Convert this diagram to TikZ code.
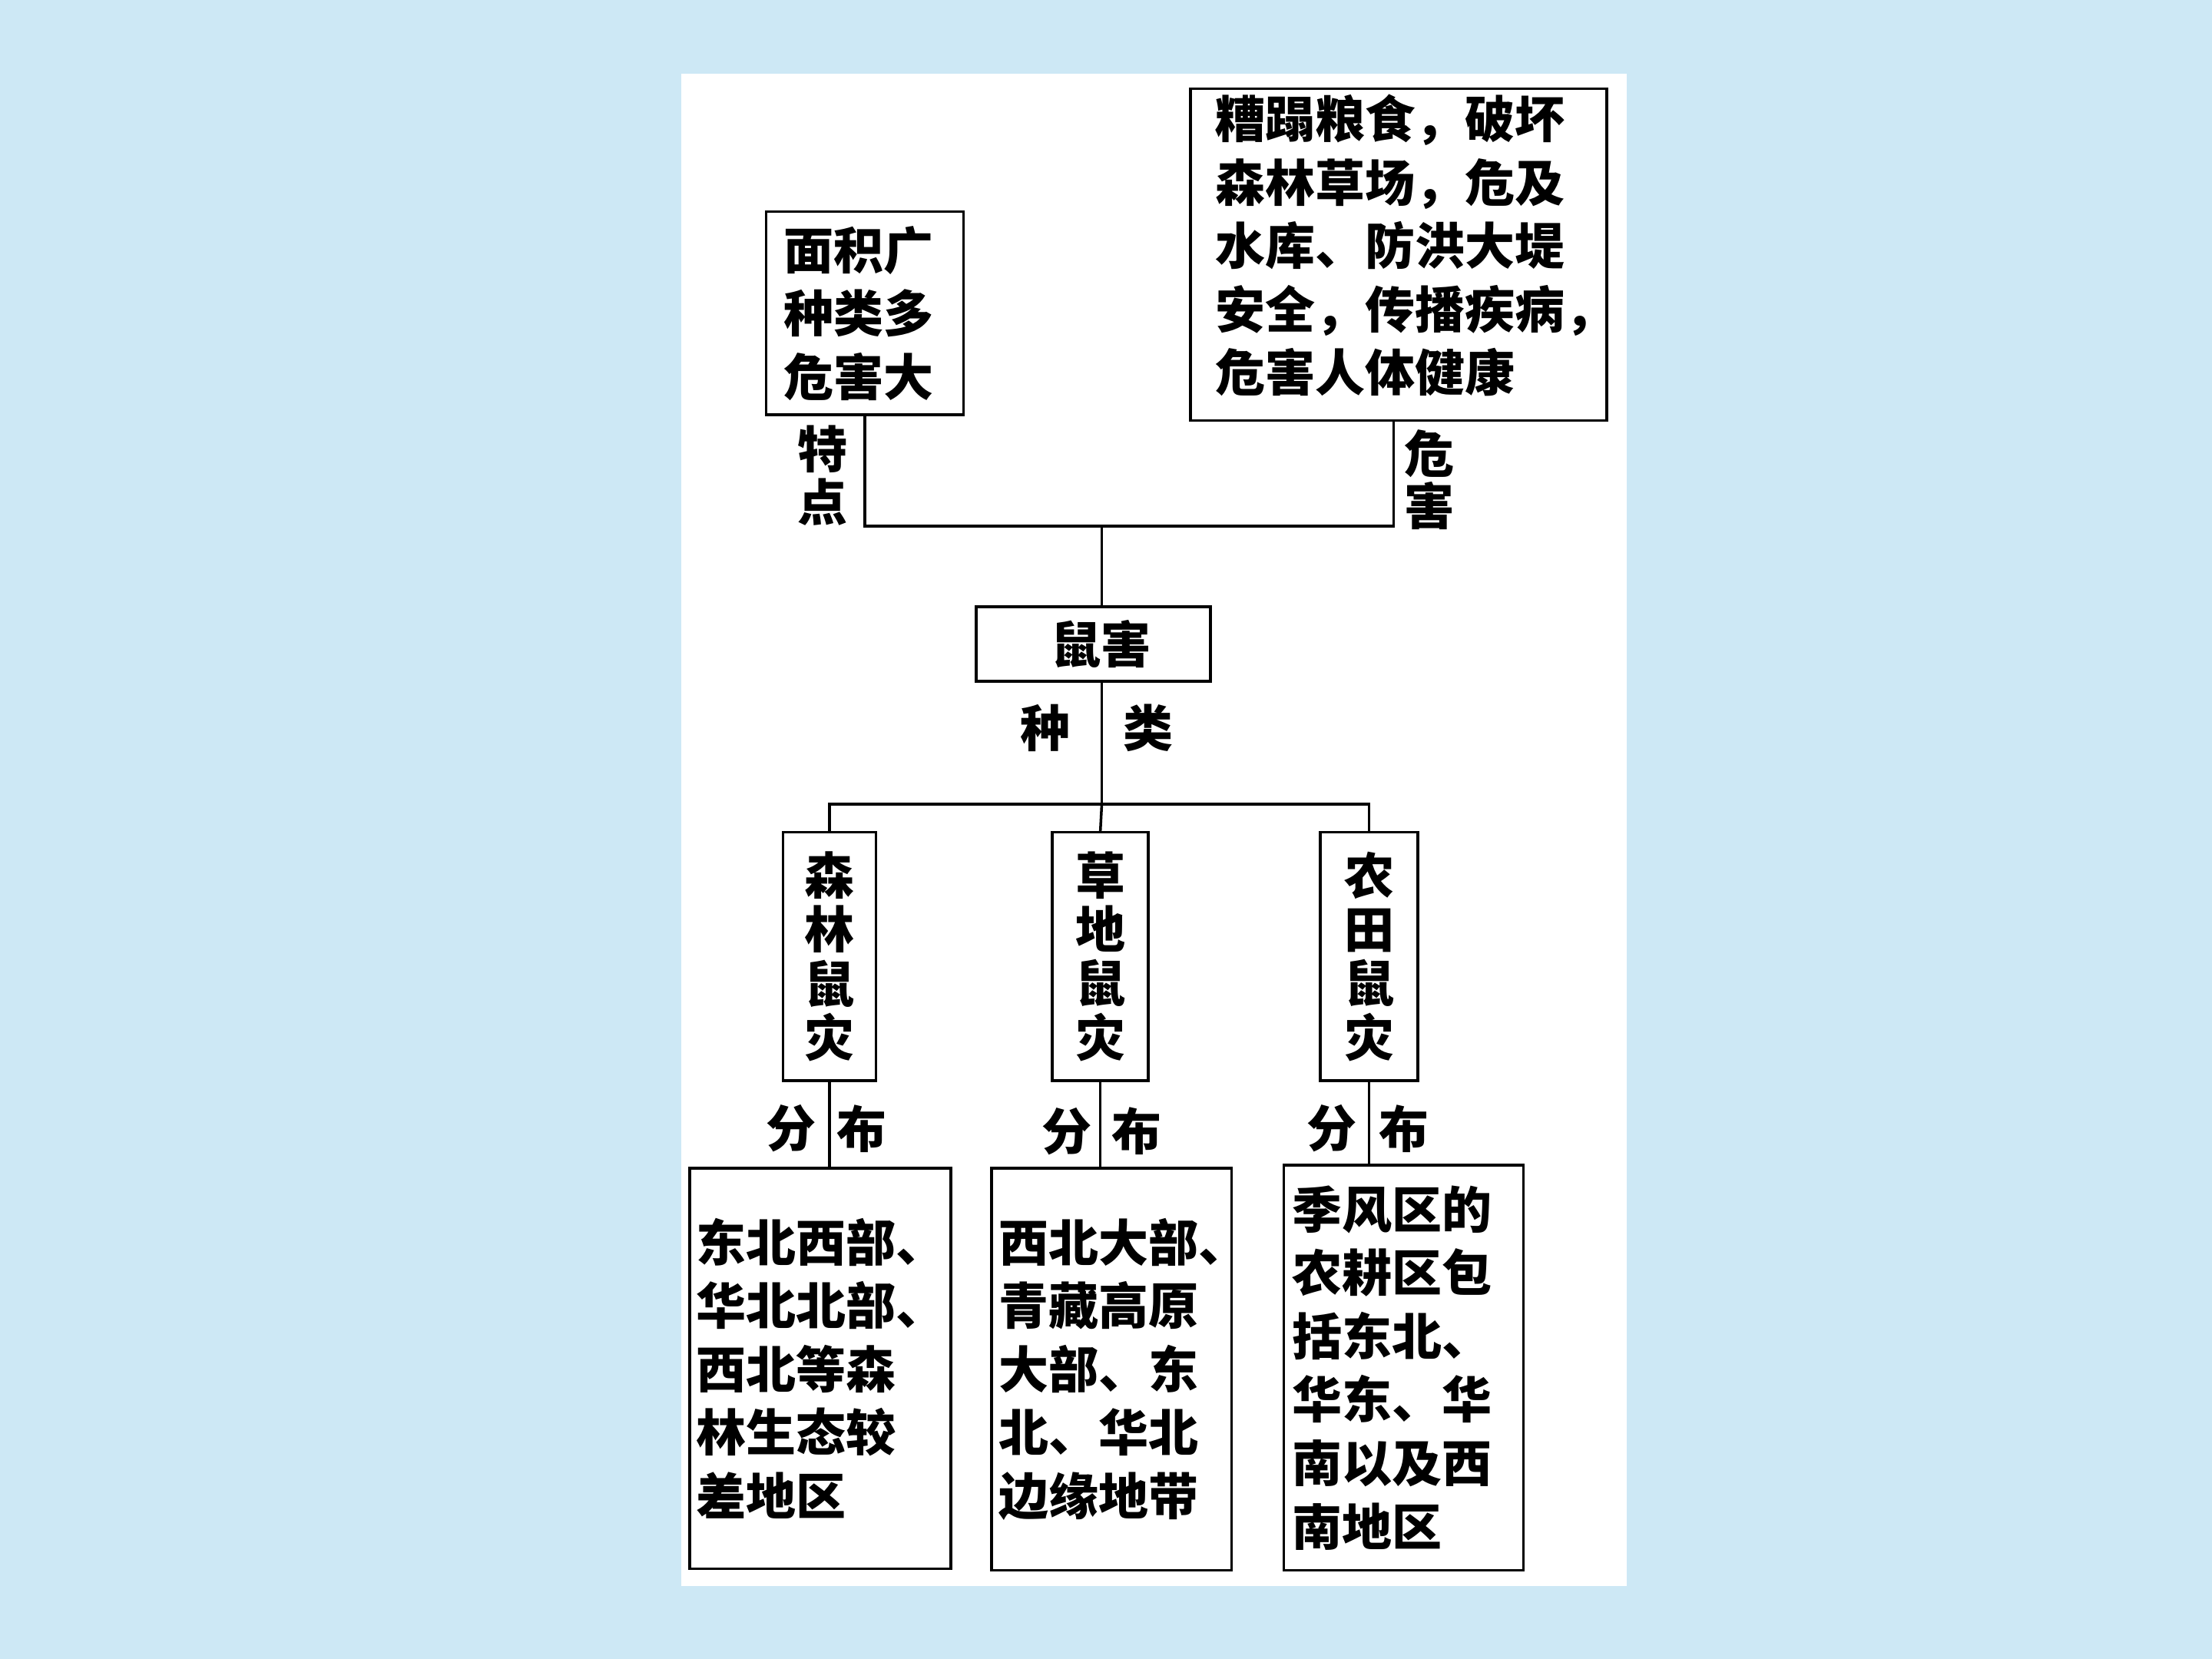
\documentclass[tikz,border=0pt]{standalone}
\usepackage{fontspec}
\setmainfont{Noto Sans CJK SC}
\definecolor{bgc}{RGB}{205,232,245}
\begin{document}
\begin{tikzpicture}[x=0.018367cm,y=-0.018367cm,
  bx/.style={draw,line width=1pt,inner sep=0pt,font=\fontsize{18.5}{23.5}\selectfont\bfseries,align=left},
  vb/.style={draw,line width=1pt,inner sep=0pt,font=\fontsize{18.5}{20}\selectfont\bfseries,align=center},
  lb/.style={font=\fontsize{18.5}{19.5}\selectfont\bfseries,inner sep=0pt},
  ln/.style={line width=1pt}]
\fill[bgc] (0,0) rectangle (1568,1176);
\useasboundingbox (0,0) rectangle (1568,1176);
\fill[white] (483,52) rectangle (1153,1124);
\node[bx,minimum width=140*0.018367cm,minimum height=144*0.018367cm,text width=115*0.018367cm] (a) at (613,222) {面积广\\种类多\\危害大};
\node[bx,draw=none,minimum width=295*0.018367cm,text width=260*0.018367cm] (bt) at (991.5,174) {糟蹋粮食，破坏\\森林草场，危及\\水库、防洪大堤\\安全，传播疾病，\\危害人体健康};
\draw[ln] (844,63) rectangle (1139,298);
\node[lb,align=center] (t) at (583,337) {特\\点};
\node[lb,align=center] (w) at (1013,340) {危\\害};
\node[bx,minimum width=166*0.018367cm,minimum height=53*0.018367cm] (s) at (775,456.5) {\hspace{0.2cm}鼠害};
\node[lb] at (741,516) {种};
\node[lb] at (814,516) {类};
\coordinate (j1) at (781,373);
\coordinate (j2) at (781,570);
\draw[ln] (a.south) |- (j1) -| (988,298);
\draw[ln] (j1) -- (781,430);
\draw[ln] (781,483) -- (j2);
\node[vb,minimum width=66*0.018367cm,minimum height=176*0.018367cm] (f1) at (588,678) {森\\林\\鼠\\灾};
\node[vb,minimum width=68*0.018367cm,minimum height=176*0.018367cm] (f2) at (780,678) {草\\地\\鼠\\灾};
\node[vb,minimum width=69*0.018367cm,minimum height=176*0.018367cm] (f3) at (970.5,678) {农\\田\\鼠\\灾};
\draw[ln] (f1.north) |- (f3.north |- j2) -- (f3.north);
\draw[ln] (j2) -- (f2.north);
\node[bx,minimum width=185*0.018367cm,minimum height=284*0.018367cm,text width=176*0.018367cm] (g1) at (581.5,970) {东北西部、\\华北北部、\\西北等森\\林生态较\\差地区};
\node[bx,minimum width=170*0.018367cm,minimum height=285*0.018367cm,text width=160*0.018367cm] (g2) at (788,970.5) {西北大部、\\青藏高原\\大部、东\\北、华北\\边缘地带};
\node[bx,minimum width=170*0.018367cm,minimum height=287*0.018367cm,text width=158*0.018367cm] (g3) at (995,969.5) {季风区的\\农耕区包\\括东北、\\华东、华\\南以及西\\南地区};
\draw[ln] (f1.south) -- (f1.south |- g1.north);
\draw[ln] (f2.south) -- (f2.south |- g2.north);
\draw[ln] (f3.south) -- (f3.south |- g3.north);
\node[lb] at (561,800) {分};
\node[lb] at (611,800) {布};
\node[lb] at (756,802) {分};
\node[lb] at (806,802) {布};
\node[lb] at (944,800) {分};
\node[lb] at (995,800) {布};
\end{tikzpicture}
\end{document}
